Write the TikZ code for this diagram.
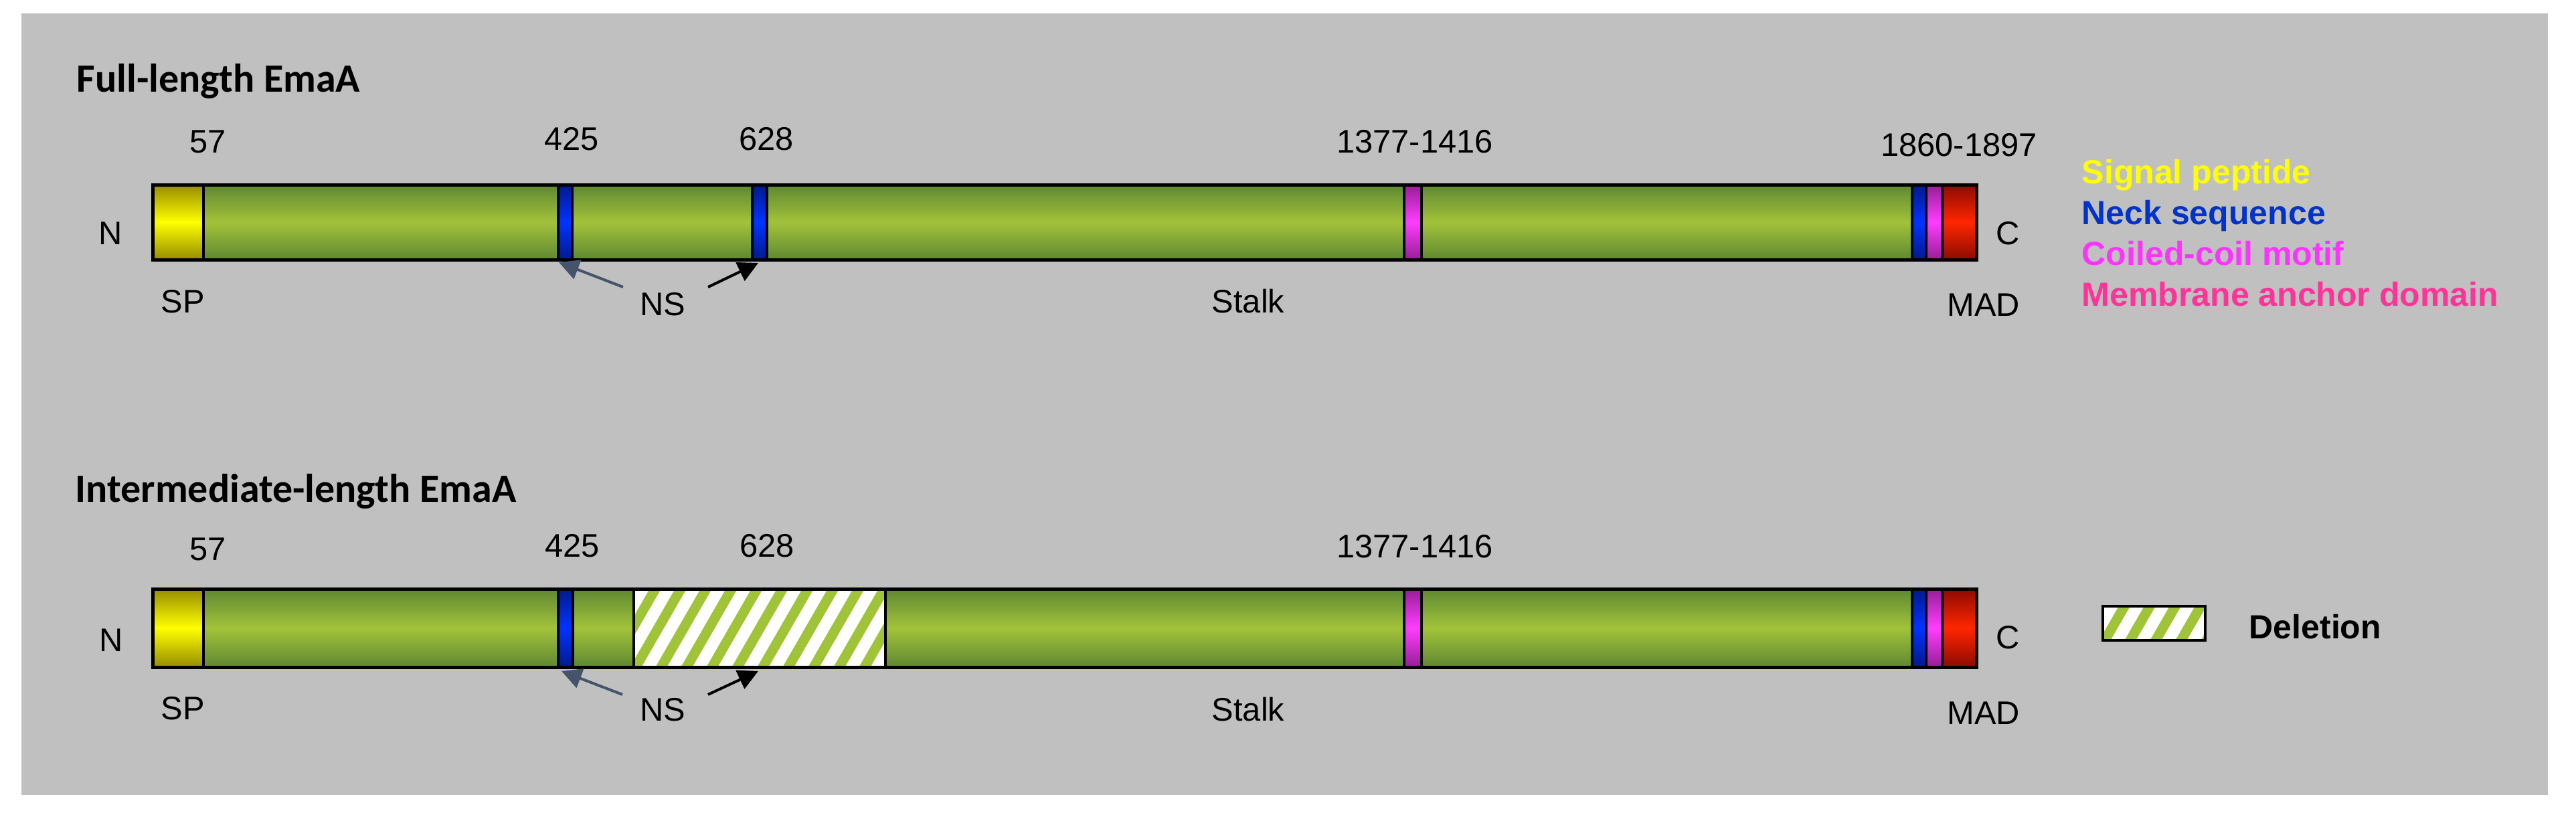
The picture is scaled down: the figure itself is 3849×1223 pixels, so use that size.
\documentclass[tikz,border=0pt]{standalone}
\usepackage{fontspec}
\setmainfont{Liberation Sans}
\newfontfamily\titlefont{Carlito}
\usetikzlibrary{arrows.meta}
\definecolor{bggray}{RGB}{192,192,192}
\definecolor{gdark}{RGB}{94,136,50}
\definecolor{glight}{RGB}{163,194,58}
\definecolor{ydark}{RGB}{150,140,0}
\definecolor{ylight}{RGB}{255,255,0}
\definecolor{bdark}{RGB}{0,25,140}
\definecolor{blight}{RGB}{0,51,255}
\definecolor{mdark}{RGB}{150,30,150}
\definecolor{mlight}{RGB}{255,60,255}
\definecolor{rdark}{RGB}{140,10,0}
\definecolor{rlight}{RGB}{255,38,0}
\definecolor{hatchgreen}{RGB}{160,196,56}
\definecolor{slate}{RGB}{68,84,106}
\definecolor{legyellow}{RGB}{255,255,0}
\definecolor{legblue}{RGB}{0,51,204}
\definecolor{legmag}{RGB}{255,51,255}
\definecolor{legpink}{RGB}{255,51,153}
\newcommand\segshade[6]{\shade[top color=#5,bottom color=#5,middle color=#6] (#1,#3) rectangle (#2,#4);}
\newcommand\hatchbox[4]{%
  \begin{scope}
    \clip (#1,#2) rectangle (#3,#4);
    \fill[white] (#1,#2) rectangle (#3,#4);
    \foreach \k in {-3,...,12} {\draw[hatchgreen,line width=3.7pt] ({#1+\k*38},{#4+5}) -- ++(72,-125);}
  \end{scope}}
\begin{document}
\begin{tikzpicture}[x=0.25pt,y=-0.25pt,
  lbl/.style={font=\fontsize{12.2}{14}\selectfont,anchor=base,inner sep=0pt},
  ttl/.style={font=\titlefont\bfseries\fontsize{15}{18}\selectfont,anchor=base west,inner sep=0pt},
  leg/.style={font=\bfseries\fontsize{12.5}{15}\selectfont,anchor=base west,inner sep=0pt},
  outline/.style={draw=black,line width=1.25pt},
  divider/.style={draw=black,line width=1.2pt},
  nsgray/.style={draw=slate,line width=1pt,-{Triangle[length=7.5pt,width=7.5pt]}},
  nsblack/.style={draw=black,line width=1pt,-{Triangle[length=7.5pt,width=7.5pt]}}]
\useasboundingbox (0,0) rectangle (3849,1223);
\fill[white] (0,0) rectangle (3849,1223);
\fill[bggray] (32,20) rectangle (3807,1188);

% ---------- Full-length ----------
\node[ttl] (t1) at (114,137) {Full-length EmaA};
\segshade{228}{304}{276}{388}{ydark}{ylight}
\segshade{304}{834}{276}{388}{gdark}{glight}
\segshade{834}{855}{276}{388}{bdark}{blight}
\segshade{855}{1124}{276}{388}{gdark}{glight}
\segshade{1124}{1146}{276}{388}{bdark}{blight}
\segshade{1146}{2098}{276}{388}{gdark}{glight}
\segshade{2098}{2124}{276}{388}{mdark}{mlight}
\segshade{2124}{2857}{276}{388}{gdark}{glight}
\segshade{2857}{2878}{276}{388}{bdark}{blight}
\segshade{2878}{2902}{276}{388}{mdark}{mlight}
\segshade{2902}{2953}{276}{388}{rdark}{rlight}
\foreach \xx in {304,834,855,1124,1146,2098,2124,2857,2878,2902}
  {\draw[divider] (\xx,276) -- (\xx,388);}
\draw[outline] (228,276) rectangle (2953,388);

\node[lbl] (a57) at (311,228) {57};
\node[lbl] (a425) at (854,224) {425};
\node[lbl] (a628) at (1145,224) {628};
\node[lbl] (a1377) at (2114,228) {1377-1416};
\node[lbl] (a1860) at (2927,233) {1860-1897};
\node[lbl] (aN) at (165,365) {N};
\node[lbl] (aC) at (3000,365) {C};
\node[lbl] (aSP) at (273,467) {SP};
\node[lbl] (aNS) at (990,471) {NS};
\node[lbl] (aStalk) at (1865,467) {Stalk};
\node[lbl] (aMAD) at (2964,472) {MAD};
\coordinate (a1s) at (931,429);
\coordinate (a1t) at (835,392);
\coordinate (a2s) at (1058,429);
\coordinate (a2t) at (1133,393);
\draw[nsgray] (a1s) -- (a1t);
\draw[nsblack] (a2s) -- (a2t);

% legend
\node[leg,text=legyellow] (lsp) at (3110,274) {Signal peptide};
\node[leg,text=legblue] (lns) at (3110,335) {Neck sequence};
\node[leg,text=legmag] (lcc) at (3110,396) {Coiled-coil motif};
\node[leg,text=legpink] (lmad) at (3110,457) {Membrane anchor domain};

% ---------- Intermediate-length ----------
\node[ttl] (t2) at (112,750) {Intermediate-length EmaA};
\segshade{228}{304}{880}{997}{ydark}{ylight}
\segshade{304}{834}{880}{997}{gdark}{glight}
\segshade{834}{856}{880}{997}{bdark}{blight}
\segshade{856}{947}{880}{997}{gdark}{glight}
\hatchbox{947}{880}{1323}{997}
\segshade{1323}{2098}{880}{997}{gdark}{glight}
\segshade{2098}{2124}{880}{997}{mdark}{mlight}
\segshade{2124}{2857}{880}{997}{gdark}{glight}
\segshade{2857}{2878}{880}{997}{bdark}{blight}
\segshade{2878}{2902}{880}{997}{mdark}{mlight}
\segshade{2902}{2953}{880}{997}{rdark}{rlight}
\foreach \xx in {304,834,856,947,1323,2098,2124,2857,2878,2902}
  {\draw[divider] (\xx,880) -- (\xx,997);}
\draw[outline] (228,880) rectangle (2953,997);

\node[lbl] (b57) at (311,837) {57};
\node[lbl] (b425) at (855,832) {425};
\node[lbl] (b628) at (1146,832) {628};
\node[lbl] (b1377) at (2114,833) {1377-1416};
\node[lbl] (bN) at (166,973) {N};
\node[lbl] (bC) at (3000,969) {C};
\node[lbl] (bSP) at (273,1075) {SP};
\node[lbl] (bNS) at (990,1077) {NS};
\node[lbl] (bStalk) at (1865,1077) {Stalk};
\node[lbl] (bMAD) at (2964,1082) {MAD};
\coordinate (b1s) at (930,1038);
\coordinate (b1t) at (839,1003);
\coordinate (b2s) at (1058,1038);
\coordinate (b2t) at (1133,1003);
\draw[nsgray] (b1s) -- (b1t);
\draw[nsblack] (b2s) -- (b2t);

% deletion legend
\hatchbox{3142}{906}{3295}{957}
\draw[outline,line width=1pt] (3142,906) rectangle (3295,957);
\node[leg] (ldel) at (3360,954) {Deletion};
\end{tikzpicture}
\end{document}
